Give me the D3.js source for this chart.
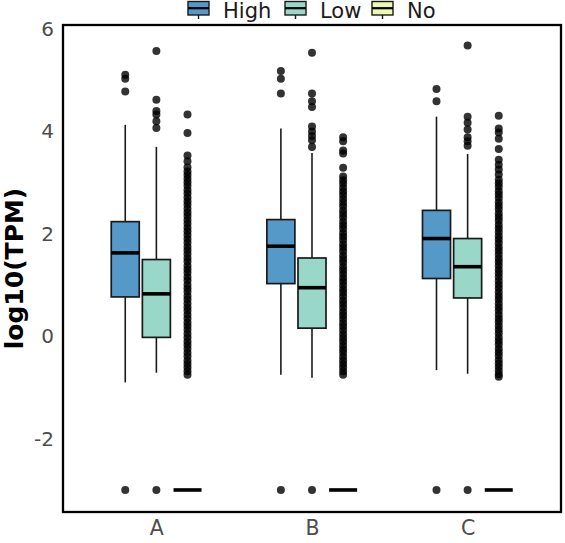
<!DOCTYPE html>
<html><head><meta charset="utf-8">
<script src="https://cdn.jsdelivr.net/npm/d3@7"></script>
<style>
html,body{margin:0;padding:0;background:#fff;}
svg{display:block;font-family:"DejaVu Sans",sans-serif;}
</style></head>
<body>
<div id="chart"></div>
<script>
// ---- data ----
const categories = ["A", "B", "C"];
const groups = ["High", "Low", "No"];
const yTicks = [-2, 0, 2, 4, 6];
// box stats per category: [lower whisker, Q1, median, Q3, upper whisker]
const highBox = [[-0.90, 0.77, 1.63, 2.24, 4.13], [-0.75, 1.03, 1.76, 2.28, 4.06], [-0.66, 1.13, 1.91, 2.46, 4.29]];
const lowBox  = [[-0.71, -0.02, 0.83, 1.50, 3.70], [-0.81, 0.16, 0.95, 1.53, 3.58], [-0.73, 0.75, 1.36, 1.91, 3.56]];
const noBox   = [[-3, -3, -3, -3, -3], [-3, -3, -3, -3, -3], [-3, -3, -3, -3, -3]];
// outliers per category
const highOut = [[5.11, 5.03, 4.78, -3], [5.18, 5.03, 4.74, -3], [4.83, 4.59, -3]];
const lowOut = [[5.57, 4.62, 4.40, 4.33, 4.20, 4.07, -3], [5.54, 4.74, 4.59, 4.48, 4.10, 4.00, 3.91, 3.83, 3.70, -3], [5.68, 4.29, 4.17, 4.04, 3.89, 3.81, 3.72, -3]];
const noOutA = [4.33, 3.97, 3.53, 3.42, 3.30, 3.22, 3.15, 3.08, 3.01, 2.94, 2.86, 2.79, 2.71, 2.64, 2.57, 2.49, 2.42, 2.35, 2.27, 2.20, 2.12, 2.05, 1.98, 1.90, 1.83, 1.75, 1.68, 1.61, 1.53, 1.46, 1.38, 1.31, 1.24, 1.16, 1.09, 1.01, 0.94, 0.87, 0.79, 0.72, 0.64, 0.57, 0.50, 0.42, 0.35, 0.27, 0.20, 0.13, 0.05, -0.02, -0.10, -0.17, -0.24, -0.32, -0.39, -0.47, -0.54, -0.61, -0.68, -0.75];
const noOutB = [3.89, 3.81, 3.63, 3.57, 3.29, 3.12, 3.05, 2.98, 2.90, 2.83, 2.76, 2.68, 2.61, 2.54, 2.46, 2.39, 2.32, 2.24, 2.17, 2.10, 2.02, 1.95, 1.88, 1.80, 1.73, 1.66, 1.58, 1.51, 1.44, 1.36, 1.29, 1.22, 1.14, 1.07, 1.00, 0.92, 0.85, 0.78, 0.70, 0.63, 0.56, 0.48, 0.41, 0.34, 0.26, 0.19, 0.12, 0.04, -0.03, -0.10, -0.18, -0.25, -0.32, -0.40, -0.47, -0.54, -0.61, -0.68, -0.75];
const noOutC = [4.31, 4.06, 3.98, 3.86, 3.66, 3.45, 3.35, 3.26, 3.16, 3.06, 2.99, 2.92, 2.84, 2.77, 2.70, 2.62, 2.55, 2.48, 2.40, 2.33, 2.26, 2.18, 2.11, 2.04, 1.96, 1.89, 1.82, 1.74, 1.67, 1.60, 1.52, 1.45, 1.38, 1.30, 1.23, 1.16, 1.08, 1.01, 0.94, 0.86, 0.79, 0.72, 0.64, 0.57, 0.50, 0.42, 0.35, 0.28, 0.20, 0.13, 0.06, -0.02, -0.09, -0.16, -0.24, -0.31, -0.38, -0.46, -0.53, -0.60, -0.67, -0.74, -0.79];
const noOut = [noOutA, noOutB, noOutC];

// ---- styles ----
const fills = {High: "#5599c8", Low: "#99d8c9", No: "#edf8b1"};
const W = 565, H = 543;
const M = {left: 63, right: 4, top: 25, bottom: 31};

const statsByGroup = {High: highBox, Low: lowBox, No: noBox};
const outByGroup = {High: highOut, Low: lowOut, No: noOut};

const svg = d3.select("#chart").append("svg").attr("width", W).attr("height", H);

const x = d3.scalePoint().domain(categories).range([M.left, W - M.right]).padding(0.6);
const step = x.step();
const xg = d3.scaleBand().domain(groups).range([-0.3 * step, 0.3 * step]);
const boxW = xg.bandwidth() * 0.9;
const y = d3.scaleLinear().domain([-3.43, 6.08]).range([H - M.bottom, M.top]);

// axes (labels only)
const yAxis = svg.append("g").attr("transform", `translate(${M.left},0)`)
  .call(d3.axisLeft(y).tickValues(yTicks).tickSize(0).tickPadding(9).tickFormat(d => String(d)));
yAxis.select(".domain").remove();
yAxis.selectAll("text").attr("font-size", 20).attr("fill", "#4d4d4d").attr("font-family", "DejaVu Sans");

const xAxis = svg.append("g").attr("transform", `translate(0,${H - M.bottom})`)
  .call(d3.axisBottom(x).tickSize(0).tickPadding(8.5));
xAxis.select(".domain").remove();
xAxis.selectAll("text").attr("font-size", 20.5).attr("fill", "#4d4d4d").attr("font-family", "DejaVu Sans");

// boxes
const data = [];
categories.forEach((c, ci) => groups.forEach(g => {
  const s = statsByGroup[g][ci];
  data.push({c, g, lo: s[0], q1: s[1], med: s[2], q3: s[3], hi: s[4], out: outByGroup[g][ci]});
}));

const bx = d => x(d.c) + xg(d.g) + xg.bandwidth() / 2;

const gB = svg.append("g");
const item = gB.selectAll("g.box").data(data).join("g").attr("class", "box");
item.append("line").attr("x1", bx).attr("x2", bx).attr("y1", d => y(d.hi)).attr("y2", d => y(d.q3))
  .attr("stroke", "#1a1a1a").attr("stroke-width", 1.6);
item.append("line").attr("x1", bx).attr("x2", bx).attr("y1", d => y(d.q1)).attr("y2", d => y(d.lo))
  .attr("stroke", "#1a1a1a").attr("stroke-width", 1.6);
item.append("rect").attr("x", d => bx(d) - boxW / 2).attr("width", boxW)
  .attr("y", d => y(d.q3)).attr("height", d => y(d.q1) - y(d.q3))
  .attr("fill", d => fills[d.g]).attr("stroke", "#1a1a1a").attr("stroke-width", 1.7);
item.append("line").attr("x1", d => bx(d) - boxW / 2).attr("x2", d => bx(d) + boxW / 2)
  .attr("y1", d => y(d.med)).attr("y2", d => y(d.med)).attr("stroke", "#000").attr("stroke-width", 3.6);
item.selectAll("circle").data(d => d.out.map(v => ({v, cx: bx(d)}))).join("circle")
  .attr("cx", d => d.cx).attr("cy", d => y(d.v)).attr("r", 4)
  .attr("fill", "#000").attr("fill-opacity", 0.8);

// frame
svg.append("rect").attr("x", M.left).attr("y", M.top)
  .attr("width", W - M.right - M.left).attr("height", H - M.bottom - M.top)
  .attr("fill", "none").attr("stroke", "#000").attr("stroke-width", 2.3);

// y title
svg.append("text").attr("transform", `translate(23,${(M.top + H - M.bottom) / 2}) rotate(-90)`)
  .attr("text-anchor", "middle").attr("font-size", 25).attr("font-weight", "bold")
  .attr("fill", "#000").text("log10(TPM)");

// legend
const legX = [188, 285, 372];
const leg = svg.append("g");
groups.forEach((g, i) => {
  const lx = legX[i];
  const gg = leg.append("g");
  gg.append("line").attr("x1", lx + 10.5).attr("x2", lx + 10.5).attr("y1", 15).attr("y2", 19)
    .attr("stroke", "#1a1a1a").attr("stroke-width", 1.4);
  gg.append("rect").attr("x", lx).attr("y", 1.5).attr("width", 21).attr("height", 13.5)
    .attr("fill", fills[g]).attr("stroke", "#1a1a1a").attr("stroke-width", 1.4);
  gg.append("line").attr("x1", lx).attr("x2", lx + 21).attr("y1", 8.2).attr("y2", 8.2)
    .attr("stroke", "#000").attr("stroke-width", 2.2);
  gg.append("text").attr("x", lx + 35).attr("y", 17.5).attr("font-size", 21)
    .attr("fill", "#1a1a1a").text(g);
});
</script>
</body></html>
